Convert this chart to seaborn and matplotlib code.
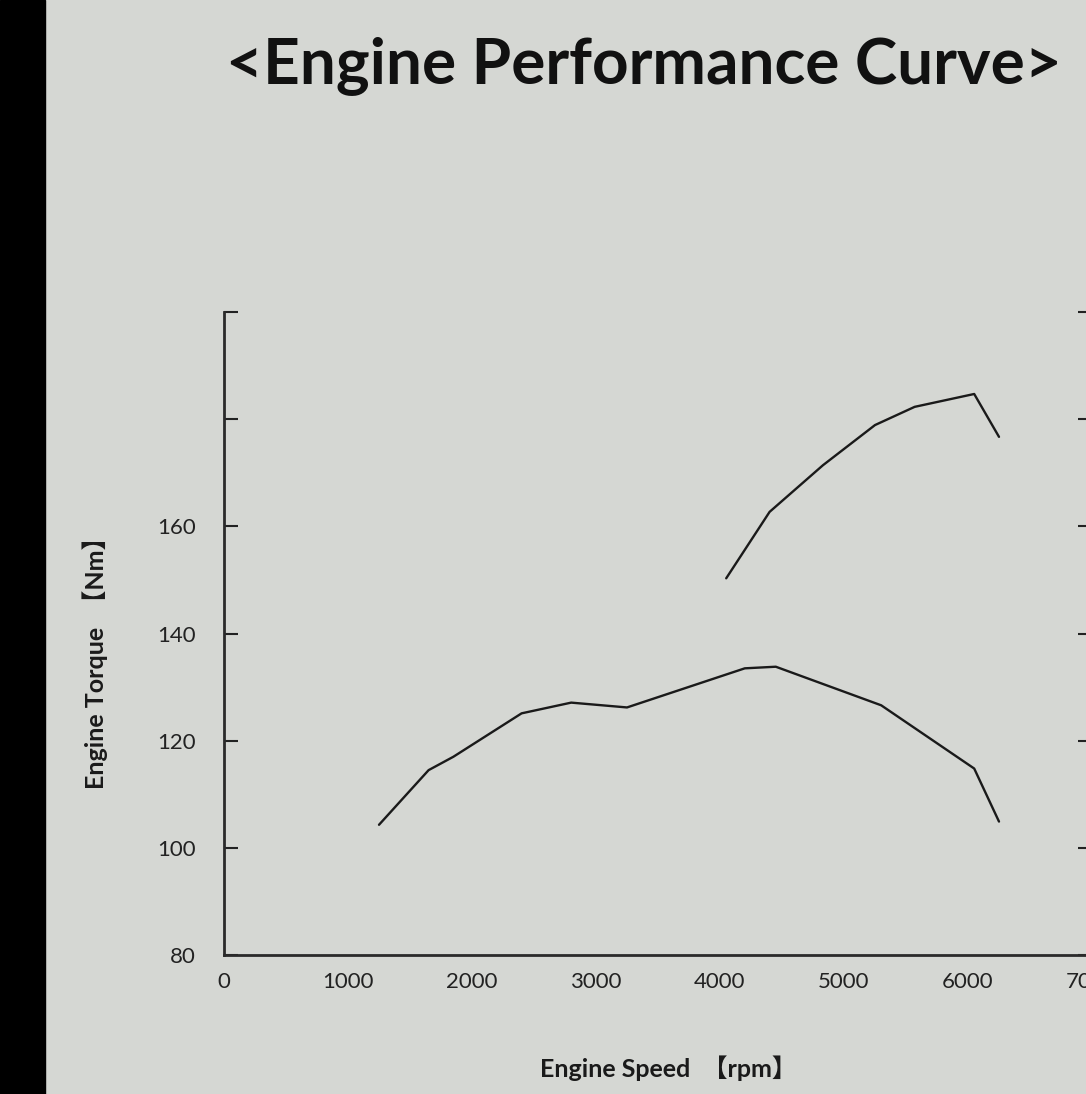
import pandas as pd
import matplotlib
matplotlib.use('Agg')
import matplotlib.pyplot as plt
import seaborn as sns

# data (both curves in left-axis units)
torque_rpm = [1250, 1650, 1850, 2400, 2800, 3250, 4200, 4450, 5300, 6050, 6250]
torque_nm = [104.3, 114.5, 117.0, 125.1, 127.1, 126.2, 133.5, 133.8, 126.6, 114.8, 104.9]
power_rpm = [4050, 4400, 4830, 5250, 5570, 6050, 6250]
power_val = [150.3, 162.7, 171.4, 178.9, 182.3, 184.7, 176.7]

y_ticks = [80, 100, 120, 140, 160, 180, 200]
y_labels = ['80', '100', '120', '140', '160', '', '']
x_ticks = [0, 1000, 2000, 3000, 4000, 5000, 6000, 7000]

bg = '#d5d7d3'
sns.set_theme(style='white', rc={'axes.facecolor': bg, 'figure.facecolor': bg})
plt.rcParams['font.family'] = ['Lato', 'Noto Sans CJK JP', 'DejaVu Sans']

df = pd.concat([
    pd.DataFrame({'rpm': torque_rpm, 'val': torque_nm, 'curve': 'torque'}),
    pd.DataFrame({'rpm': power_rpm, 'val': power_val, 'curve': 'power'}),
])

fig = plt.figure(figsize=(10.86, 10.94), dpi=100)
ax = fig.add_axes([224 / 1086, 139 / 1094, 868 / 1086, 643 / 1094])

sns.lineplot(data=df, x='rpm', y='val', hue='curve', units='curve', estimator=None,
             palette={'torque': '#1a1a1a', 'power': '#1a1a1a'}, lw=1.7, legend=False, ax=ax)

ax.set_xlim(0, 7000)
ax.set_ylim(80, 200)
ax.set_xticks(x_ticks)
ax.set_yticks(y_ticks)
ax.set_yticklabels(y_labels)
ax.tick_params(axis='y', direction='in', length=10, width=1.5, color='#222222',
               labelsize=16, pad=20, right=True, left=True)
ax.tick_params(axis='x', length=0, labelsize=16, pad=12)
for lab in ax.get_xticklabels() + ax.get_yticklabels():
    lab.set_color('#222222')

for s in ['left', 'bottom', 'right']:
    ax.spines[s].set_visible(True)
    ax.spines[s].set_color('#2a2a2a')
    ax.spines[s].set_linewidth(2)
ax.spines['top'].set_visible(False)

ax.set_xlabel('')
ax.set_ylabel('')
fig.text(668 / 1086, 1 - 1068 / 1094, 'Engine Speed  【rpm】', ha='center', va='center',
         fontsize=18, fontweight='bold', color='#1a1a1a')
fig.text(95 / 1086, 1 - 657 / 1094, 'Engine Torque  【Nm】', ha='center', va='center',
         rotation=90, fontsize=18, fontweight='bold', color='#1a1a1a')

fig.text(644 / 1086, 1 - 66 / 1094, '<Engine Performance Curve>', ha='center', va='center',
         fontsize=46, fontweight='bold', color='#111111')

# black band on the left edge
fig.patches.append(plt.Rectangle((0, 0), 45 / 1086, 1, transform=fig.transFigure,
                                 color='black', zorder=10))

fig.savefig('out.png', dpi=100, facecolor=bg)
